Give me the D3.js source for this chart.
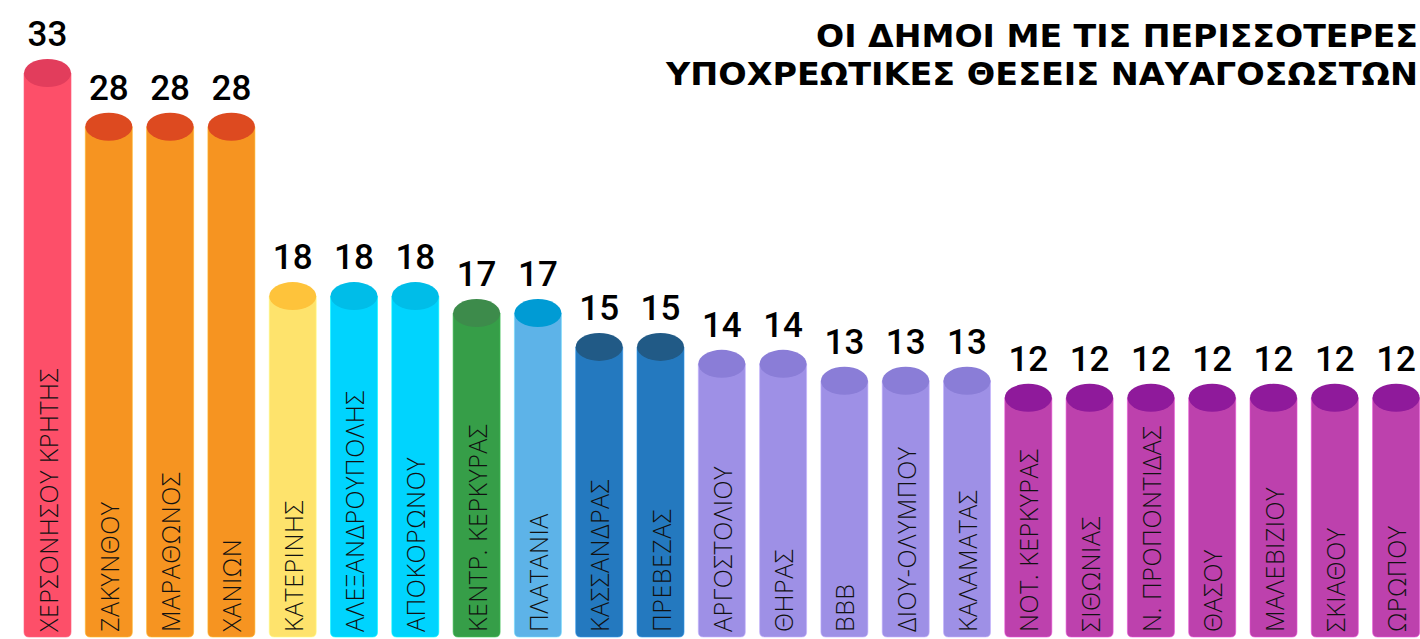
<!DOCTYPE html>
<html>
  <head>
    <meta charset="utf-8">
    <title>Δήμοι με τις περισσότερες υποχρεωτικές θέσεις ναυαγοσωστών</title>
    <script src="https://d3js.org/d3.v7.min.js"></script>
    <style>
      html, body { margin: 0; padding: 0; background: #fff; }
      #canvas { display: block; }
    </style>
  </head>

  <body>
    <svg id="canvas"></svg>
    <script>
      // data
      var municipalities = [
        "ΧΕΡΣΟΝΗΣΟΥ ΚΡΗΤΗΣ", "ΖΑΚΥΝΘΟΥ", "ΜΑΡΑΘΩΝΟΣ", "ΧΑΝΙΩΝ", "ΚΑΤΕΡΙΝΗΣ",
        "ΑΛΕΞΑΝΔΡΟΥΠΟΛΗΣ", "ΑΠΟΚΟΡΩΝΟΥ", "ΚΕΝΤΡ. ΚΕΡΚΥΡΑΣ", "ΠΛΑΤΑΝΙΑ", "ΚΑΣΣΑΝΔΡΑΣ",
        "ΠΡΕΒΕΖΑΣ", "ΑΡΓΟΣΤΟΛΙΟΥ", "ΘΗΡΑΣ", "ΒΒΒ", "ΔΙΟΥ-ΟΛΥΜΠΟΥ", "ΚΑΛΑΜΑΤΑΣ",
        "ΝΟΤ. ΚΕΡΚΥΡΑΣ", "ΣΙΘΩΝΙΑΣ", "Ν. ΠΡΟΠΟΝΤΙΔΑΣ", "ΘΑΣΟΥ", "ΜΑΛΕΒΙΖΙΟΥ",
        "ΣΚΙΑΘΟΥ", "ΩΡΩΠΟΥ"
      ];
      var positions = [33, 28, 28, 28, 18, 18, 18, 17, 17, 15, 15, 14, 14, 13, 13, 13, 12, 12, 12, 12, 12, 12, 12];
      var titleLines = ["ΟΙ ΔΗΜΟΙ ΜΕ ΤΙΣ ΠΕΡΙΣΣΟΤΕΡΕΣ", "ΥΠΟΧΡΕΩΤΙΚΕΣ ΘΕΣΕΙΣ ΝΑΥΑΓΟΣΩΣΤΩΝ"];

      // colours, one per bar (body / lid)
      var bodyColours = [
        "#fd4f69", "#f69421", "#f69421", "#f69421", "#fee36c",
        "#00d4fe", "#00d4fe", "#369e48", "#5db3e8", "#2479bf",
        "#2479bf", "#9e90e6", "#9e90e6", "#9e90e6", "#9e90e6", "#9e90e6",
        "#bd41ad", "#bd41ad", "#bd41ad", "#bd41ad", "#bd41ad", "#bd41ad", "#bd41ad"
      ];
      var lidColours = [
        "#e23d5c", "#dd4a20", "#dd4a20", "#dd4a20", "#fec33b",
        "#00bde8", "#00bde8", "#3d8b4b", "#009bd4", "#215a86",
        "#215a86", "#8a7dd7", "#8a7dd7", "#8a7dd7", "#8a7dd7", "#8a7dd7",
        "#8f1a9b", "#8f1a9b", "#8f1a9b", "#8f1a9b", "#8f1a9b", "#8f1a9b", "#8f1a9b"
      ];

      var rows = municipalities.map(function(d, i) {
        return { name: d, value: positions[i], body: bodyColours[i], lid: lidColours[i] };
      });

      width = 1420;
      height = 639;
      var floor = 637;

      canvas = d3.select("#canvas")
        .attr("width", width)
        .attr("height", height);

      // scales (the tallest bar is shortened, as in the original graphic)
      var step = 61.3;
      x = d3.scaleBand()
        .domain(municipalities)
        .range([24 - step * 0.1165, 24 - step * 0.1165 + step * municipalities.length])
        .paddingInner(0.233)
        .paddingOuter(0.1165);
      y = d3.scaleLinear()
        .domain([0, 28, 33])
        .range([601, 126.7, 73]);

      var bw = x.bandwidth();
      var rx = bw / 2;
      var ry = 14;
      var r = 5;

      function barPath(d) {
        let x0 = x(d.name), x1 = x0 + bw, top = y(d.value);
        return "M" + x0 + "," + top +
          "L" + x0 + "," + (floor - r) +
          "Q" + x0 + "," + floor + " " + (x0 + r) + "," + floor +
          "L" + (x1 - r) + "," + floor +
          "Q" + x1 + "," + floor + " " + x1 + "," + (floor - r) +
          "L" + x1 + "," + top + "Z";
      }

      bars = canvas.append("g")
        .selectAll("g")
          .data(rows)
        .enter().append("g");

      bars.append("path")
        .attr("d", barPath)
        .attr("fill", function(d) { return d.body; })
        .attr("stroke", function(d) { return d3.color(d.body).brighter(0.6); })
        .attr("stroke-width", 1)
        .attr("stroke-opacity", 0.6);

      bars.append("ellipse")
        .attr("cx", function(d) { return x(d.name) + rx; })
        .attr("cy", function(d) { return y(d.value); })
        .attr("rx", rx)
        .attr("ry", ry)
        .attr("fill", function(d) { return d.lid; });

      // value labels
      bars.append("text")
        .attr("x", function(d) { return x(d.name) + rx; })
        .attr("y", function(d) { return y(d.value) - ry - 13; })
        .attr("text-anchor", "middle")
        .style("font-family", "Roboto, 'Open Sans', sans-serif")
        .style("font-weight", 500)
        .style("font-size", "35px")
        .style("fill", "#000")
        .text(function(d) { return d.value; });

      // municipality names, vertical
      bars.append("text")
        .attr("transform", function(d) {
          return "translate(" + (x(d.name) + rx + 10) + "," + (floor - 5) + ") rotate(-90)";
        })
        .attr("text-anchor", "start")
        .style("font-family", "'Open Sans', 'Noto Sans', sans-serif")
        .style("font-weight", 300)
        .style("font-size", "25px")
        .style("letter-spacing", "0.5px")
        .style("fill", "#111")
        .text(function(d) { return d.name; });

      // title
      var titleWidths = [602, 752];
      canvas.append("g")
        .selectAll("text")
          .data(titleLines)
        .enter().append("text")
          .attr("x", 1418)
          .attr("y", function(d, i) { return 47 + i * 38; })
          .attr("text-anchor", "end")
          .attr("textLength", function(d, i) { return titleWidths[i]; })
          .attr("lengthAdjust", "spacingAndGlyphs")
          .style("font-family", "'DejaVu Sans', sans-serif")
          .style("font-weight", 700)
          .style("font-size", "31px")
          .style("fill", "#000")
          .text(function(d) { return d; });
    </script>
  </body>
</html>
